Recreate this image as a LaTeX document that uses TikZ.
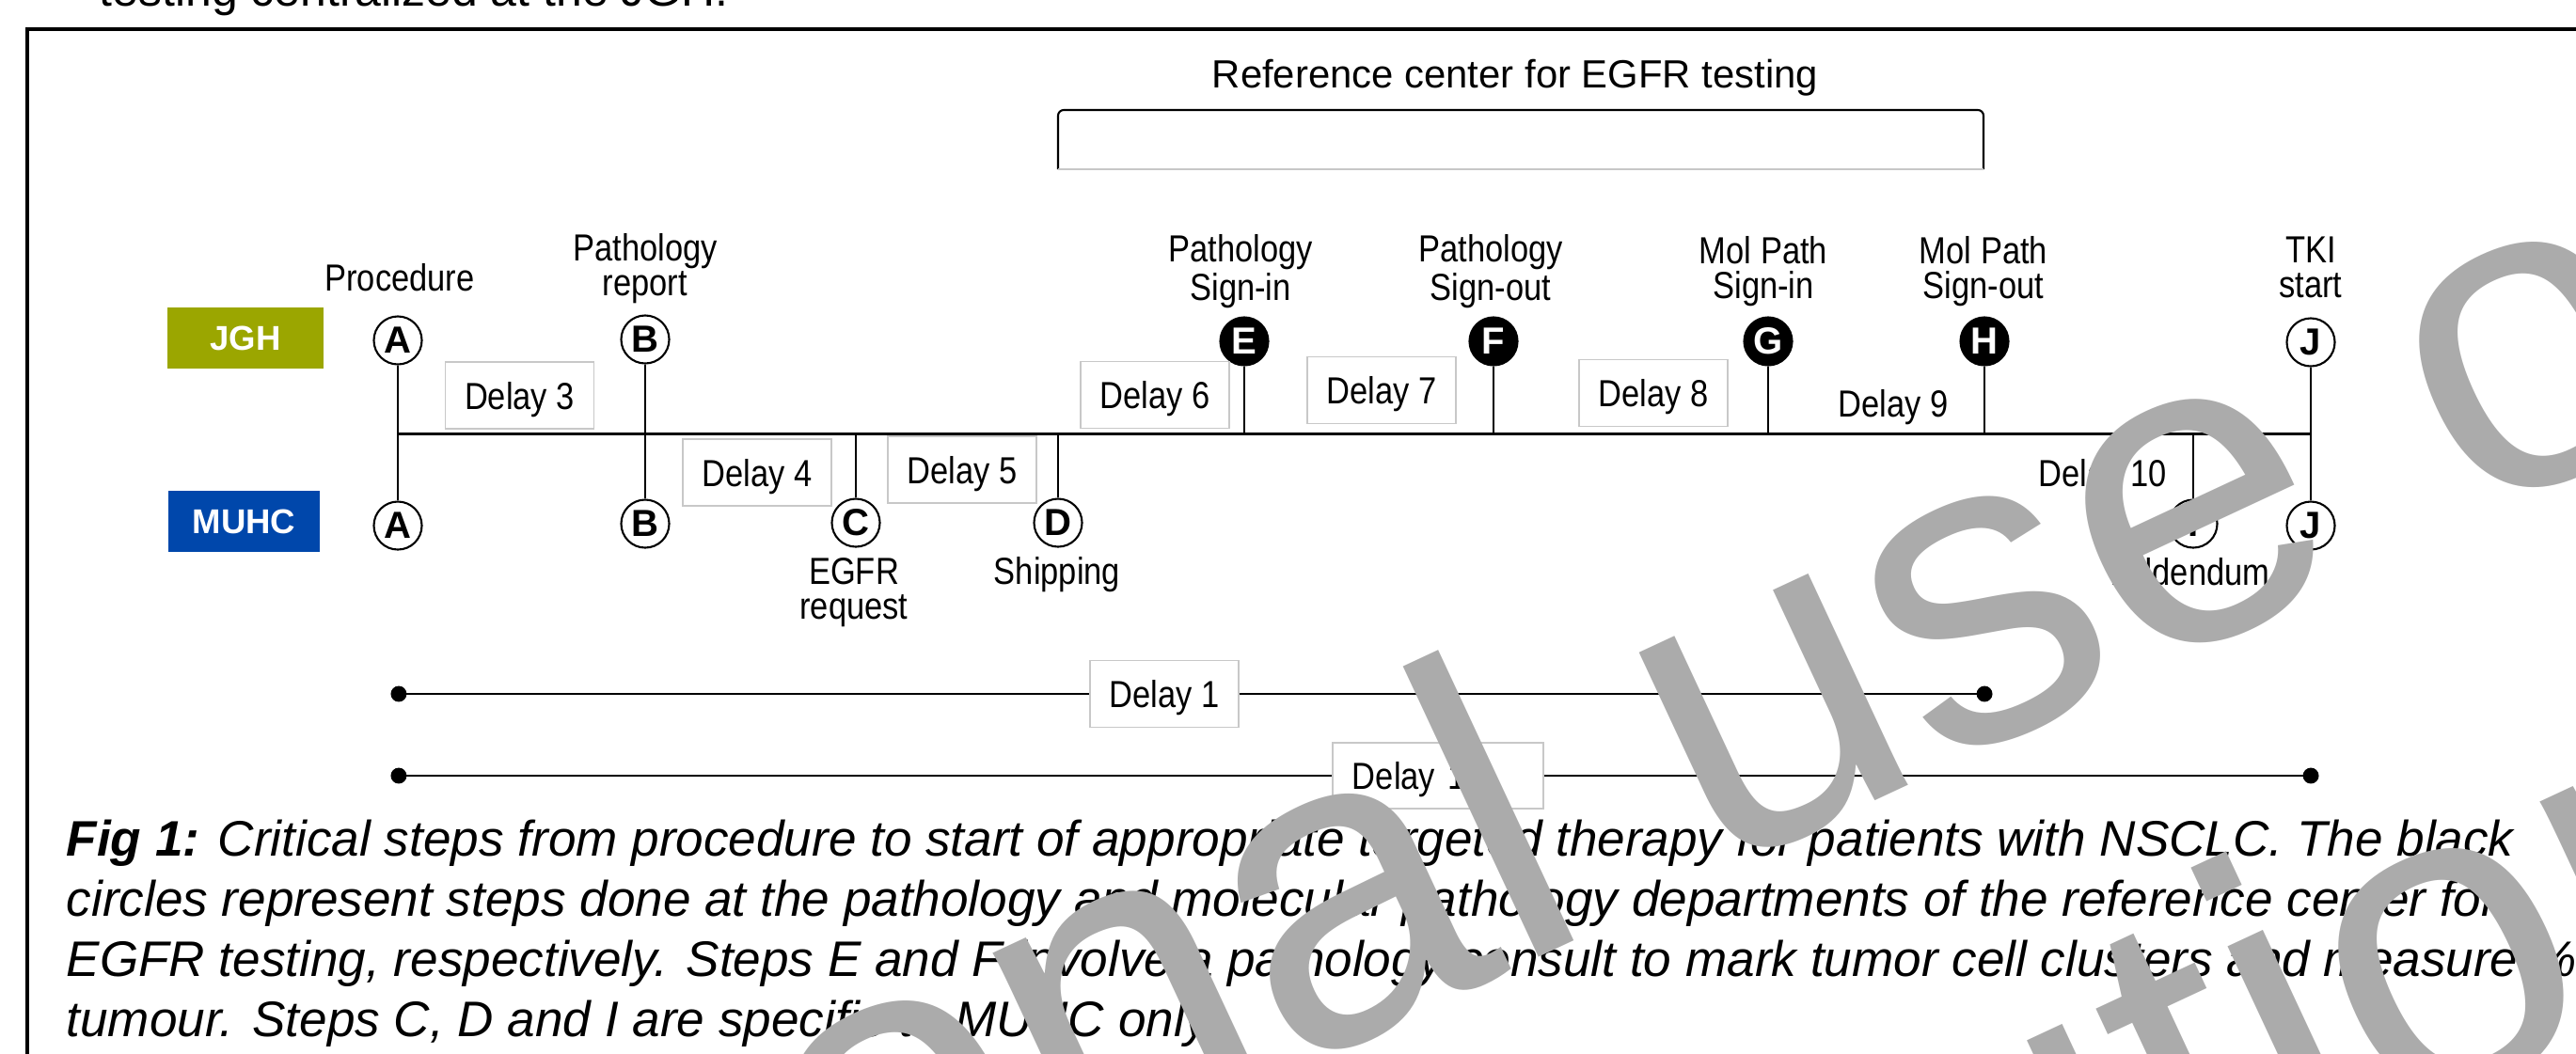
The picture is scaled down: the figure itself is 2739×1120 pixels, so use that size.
\documentclass[tikz,border=0pt]{standalone}
\usepackage{fontspec}
\setmainfont{Liberation Sans}
\newfontfamily\narrowfont{Liberation Sans}[FakeStretch=0.86]
\usetikzlibrary{arrows.meta, positioning, calc}
\definecolor{jghgreen}{HTML}{9BA600}
\definecolor{muhcblue}{HTML}{0047AB}
\definecolor{boxline}{HTML}{C8C8C8}
\definecolor{wmgray}{HTML}{ABABAB}

\begin{document}
\begin{tikzpicture}[
    x=0.01cm, y=-0.01cm,
    every node/.style={align=center, inner sep=0pt},
    lbl/.style={font=\narrowfont\fontsize{11.4pt}{10.5pt}\selectfont},
    sitebox/.style={minimum width=1.65cm, minimum height=0.65cm, text=white, font=\bfseries\fontsize{10.4pt}{12pt}\selectfont},
    stepcirc/.style={circle, draw, line width=0.6pt, fill=white, minimum size=0.51cm, font=\bfseries\fontsize{11.4pt}{12pt}\selectfont},
    stepdot/.style={stepcirc, fill=black, text=white},
    delaybox/.style={lbl, draw=boxline, fill=white, line width=0.5pt, minimum width=1.58cm, minimum height=0.71cm, text depth=0pt},
    mainline/.style={line width=0.85pt},
    stem/.style={line width=0.65pt},
    spanline/.style={line width=0.65pt, >={Circle[length=4.8pt]}},
    capt/.style={font=\itshape\fontsize{15.1pt}{18.2pt}\selectfont, align=left, anchor=north west},
    wmark/.style={text=wmgray, font=\fontsize{133.8pt}{160pt}\selectfont, rotate=25, anchor=base east},
]
\useasboundingbox (0,0) rectangle (2739,1120);
\clip (0,0) rectangle (2739,1120);

% heading line cut at the top, and the frame
\node[anchor=base west, font=\fontsize{14.2pt}{16pt}\selectfont] (head) at (105,6) {testing centralized at the JGH.};
\draw[line width=1.1pt] (29,1250) -- (29,31) -- (2850,31);

% ================= REFERENCE CENTER BRACKET =================
\node[font=\fontsize{11.9pt}{14pt}\selectfont, anchor=base] (refc) at (1611,93) {Reference center for EGFR testing};
\draw[line width=0.6pt, rounded corners=0.06cm] (1125,180) |- (2109,117) -- (2109,180);
\draw[black!22, line width=0.5pt] (1125,180) -- (2109,180);

% ================= SITES =================
\node[sitebox, fill=jghgreen] (jgh) at (261,359.5) {JGH};
\node[sitebox, fill=muhcblue, minimum width=1.61cm] (muhc) at (259.5,554.5) {MUHC};

% ================= STEPS =================
\node[stepcirc] (aT) at (423,362) {A};
\node[stepcirc] (aB) at (423,559) {A};
\node[stepcirc] (bT) at (686,361) {B};
\node[stepcirc] (bB) at (686,557) {B};
\node[stepcirc] (cB) at (910,556) {C};
\node[stepcirc] (dB) at (1125,556) {D};
\node[stepdot] (eT) at (1323,363) {E};
\node[stepdot] (fT) at (1588,363) {F};
\node[stepdot] (gT) at (1880,363) {G};
\node[stepdot] (hT) at (2110,363) {H};
\node[stepcirc] (iB) at (2332,557) {I};
\node[stepcirc] (jT) at (2457,364) {J};
\node[stepcirc] (jB) at (2457,559) {J};

\coordinate (tA) at (423,461);
\coordinate (tJ) at (2457,461);
\draw[mainline] (tA) -- (tJ);
\draw[stem] (aT) -- (aB);
\draw[stem] (bT) -- (bB);
\draw[stem] (jT) -- (jB);
\foreach \n in {cB,dB,iB,eT,fT,gT,hT} {
    \draw[stem] (\n) -- (\n |- tA);
}

% step labels
\node[lbl, anchor=north] (lA) at (425,280) {Procedure};
\node[lbl, anchor=north] (lB) at (686,248) {Pathology\\report};
\node[lbl, anchor=north] (lE) at (1319,249) {Pathology\\Sign-in};
\node[lbl, anchor=north] (lF) at (1585,249) {Pathology\\Sign-out};
\node[lbl, anchor=north] (lG) at (1875,251) {Mol Path\\Sign-in};
\node[lbl, anchor=north] (lH) at (2109,251) {Mol Path\\Sign-out};
\node[lbl, anchor=north] (lJ) at (2457,251) {TKI\\start};
\node[lbl, anchor=north] (lC) at (908,593) {EGFR\\request};
\node[lbl, anchor=north] (lD) at (1124,592) {Shipping};
\node[lbl, anchor=north] (lI) at (2330,593) {Addendum};

% ================= DELAYS =================
\node[delaybox] (d3) at (552.5,420.5) {Delay 3};
\node[delaybox] (d4) at (805,502.5) {Delay 4};
\node[delaybox] (d5) at (1023,499.5) {Delay 5};
\node[delaybox] (d6) at (1228,420) {Delay 6};
\node[delaybox] (d7) at (1469,415) {Delay 7};
\node[delaybox] (d8) at (1758,418) {Delay 8};
\node[lbl, anchor=base] (d9) at (2013,443) {Delay 9};
\node[lbl, anchor=base west] (d10) at (2167,517) {Delay 10};

% spans
\coordinate (s1a) at (415.5,738);
\coordinate (s1b) at (2118.5,738);
\coordinate (s2a) at (415.5,825);
\coordinate (s2b) at (2465.5,825);
\node[delaybox] (d1) at (1238,738) {Delay 1};
\node[delaybox, minimum width=2.24cm, minimum height=0.70cm, text width=1.82cm, align=left] (d2) at (1529,825) {Delay 1};
\draw[spanline, <-] (s1a) -- (d1.west);
\draw[spanline, ->] (d1.east) -- (s1b);
\draw[spanline, <-] (s2a) -- (d2.west);
\draw[spanline, ->] (d2.east) -- (s2b);

% ================= CAPTION =================
\node[capt] (cap) at (70,871) {\textbf{Fig 1:} Critical steps from procedure to start of appropriate targeted therapy for patients with NSCLC. The black\\
circles represent steps done at the pathology and molecular pathology departments of the reference center for\\
EGFR testing, respectively. Steps E and F involve a pathology consult to mark tumor cell clusters and measure \%\\
tumour. Steps C, D and I are specific to MUHC only.};

% watermark
\node[wmark] (wm1) at (3410,191) {For personal use only};
\node[wmark] (wm2) at (3016,980) {Not for distribution};

\end{tikzpicture}
\end{document}
